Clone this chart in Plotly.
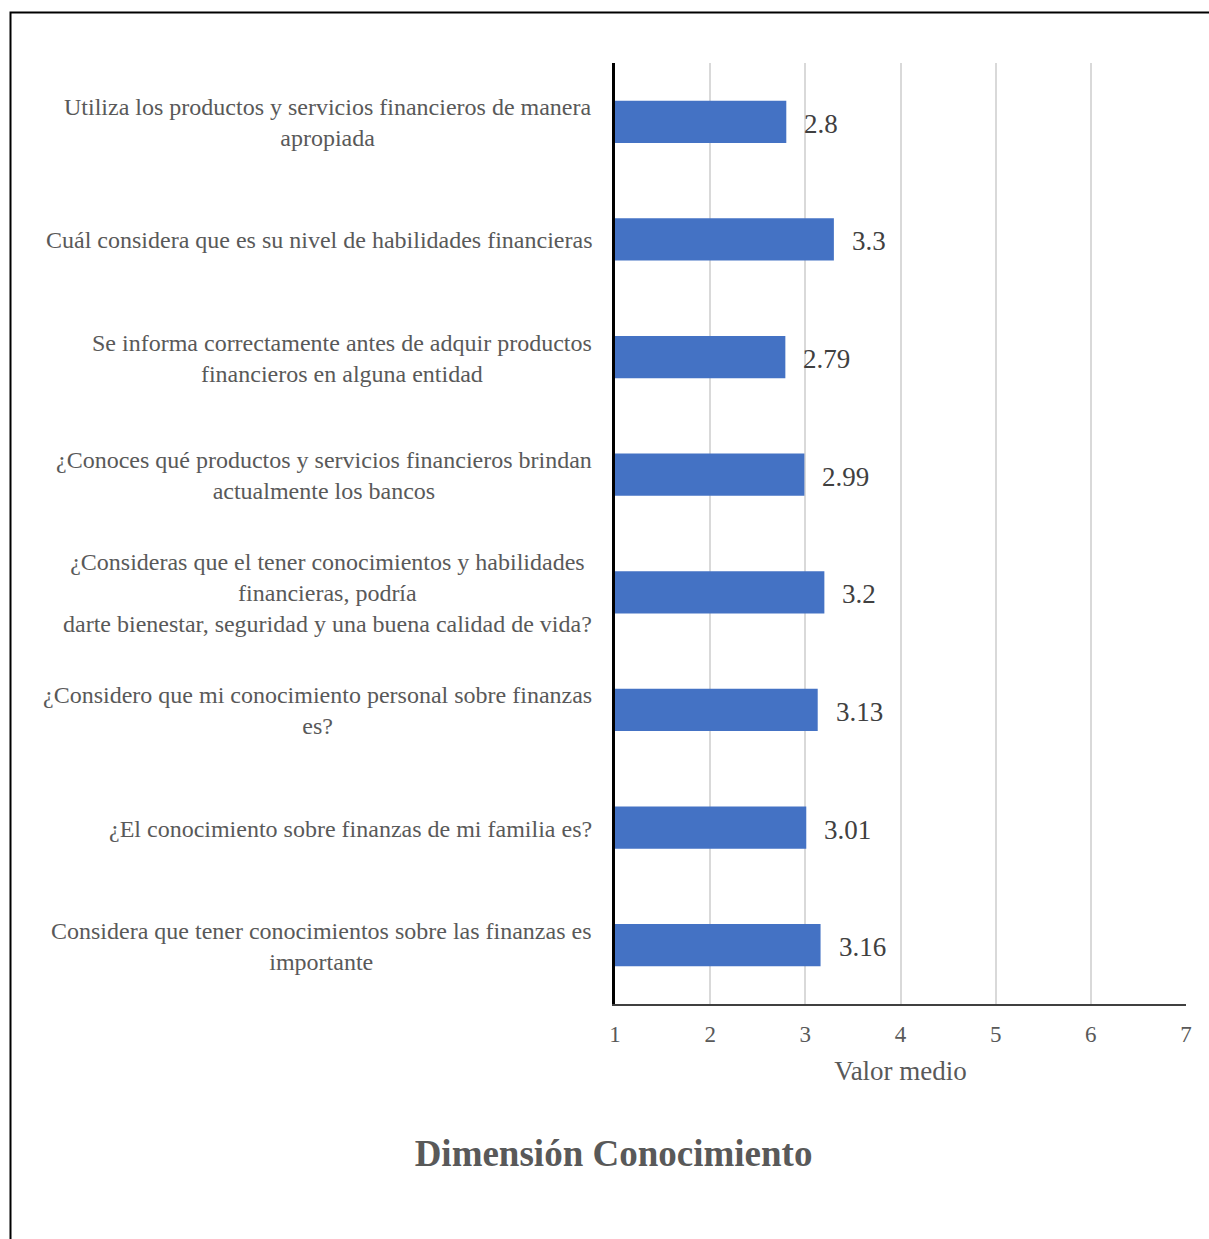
import plotly.graph_objects as go

categories = [
    "Utiliza los productos y servicios financieros de manera<br>apropiada",
    "Cuál considera que es su nivel de habilidades financieras",
    "Se informa correctamente antes de adquir productos<br>financieros en alguna entidad",
    "¿Conoces qué productos y servicios financieros brindan<br>actualmente los bancos",
    "¿Consideras que el tener conocimientos y habilidades<br>financieras, podría<br>darte bienestar, seguridad y una buena calidad de vida?",
    "¿Considero que mi conocimiento personal sobre finanzas<br>es?",
    "¿El conocimiento sobre finanzas de mi familia es?",
    "Considera que tener conocimientos sobre las finanzas es<br>importante",
]
values = [2.8, 3.3, 2.79, 2.99, 3.2, 3.13, 3.01, 3.16]
value_labels = ["2.8", "3.3", "2.79", "2.99", "3.2", "3.13", "3.01", "3.16"]
x_ticks = [1, 2, 3, 4, 5, 6, 7]

W, H = 1209, 1239
L, R, T, B = 615, 23, 63, 235
PW, PH = W - L - R, H - T - B

FONT = "Liberation Serif, Times New Roman, serif"

fig = go.Figure()
fig.add_trace(go.Bar(
    y=categories, x=values, base=0, orientation="h",
    marker=dict(color="#4472C4", line=dict(width=0)),
    width=0.36, hoverinfo="skip",
))

annotations = []
for c, v, t in zip(categories, values, value_labels):
    annotations.append(dict(
        x=v, y=c, xref="x", yref="y", text=t, showarrow=False,
        xanchor="left", yanchor="middle", xshift=16, yshift=-2,
        font=dict(family=FONT, size=27, color="#404040"),
    ))
    annotations.append(dict(
        x=0, y=c, xref="paper", yref="y", text=c, showarrow=False,
        xanchor="right", yanchor="middle", xshift=-21, yshift=-1, align="center",
        font=dict(family=FONT, size=24, color="#595959"),
    ))

def px_x(p):
    return (p - L) / PW

def px_y(p):
    return 1 - (p - T) / PH

shapes = [dict(
    type="rect", xref="paper", yref="paper",
    x0=px_x(10.5), x1=px_x(1230), y0=px_y(1260), y1=px_y(12.5),
    line=dict(color="black", width=2), fillcolor="rgba(0,0,0,0)", layer="above",
)]

fig.update_layout(
    width=W, height=H,
    margin=dict(l=L, r=R, t=T, b=B),
    paper_bgcolor="white", plot_bgcolor="white",
    showlegend=False,
    annotations=annotations,
    shapes=shapes,
    title=dict(
        text="<b>Dimensión Conocimiento</b>",
        x=613.5 / W, xanchor="center", xref="container",
        y=1 - 1153 / H, yanchor="middle", yref="container",
        font=dict(family=FONT, size=37, color="#595959"),
    ),
    xaxis=dict(
        range=[1, 7], tickvals=x_ticks, ticktext=[str(v) for v in x_ticks],
        showgrid=True, gridcolor="#d9d9d9", gridwidth=2,
        zeroline=False, showline=True, linecolor="#404040", linewidth=2,
        ticks="outside", ticklen=8, tickcolor="rgba(0,0,0,0)",
        tickfont=dict(family=FONT, size=23, color="#595959"),
        title=dict(text="Valor medio", standoff=16,
                   font=dict(family=FONT, size=27, color="#595959")),
        fixedrange=True,
    ),
    yaxis=dict(
        categoryorder="array", categoryarray=categories,
        autorange="reversed", showticklabels=False,
        showgrid=False, zeroline=False,
        showline=True, linecolor="black", linewidth=2.5,
        fixedrange=True,
    ),
    bargap=0.64,
)

fig.write_html("out.html")
